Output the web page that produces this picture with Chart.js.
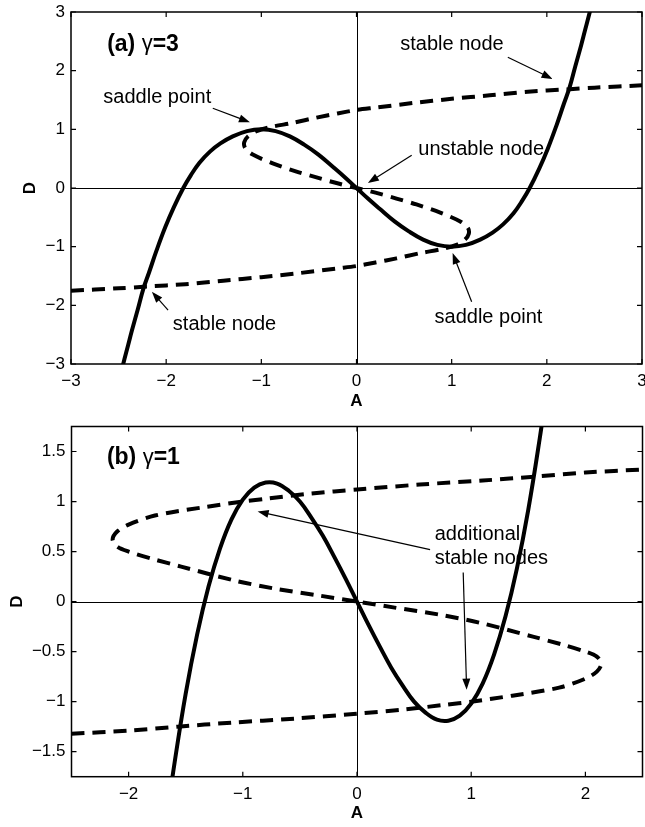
<!DOCTYPE html>
<html>
<head>
<meta charset="utf-8">
<script src="https://cdn.jsdelivr.net/npm/chart.js@4.4.1/dist/chart.umd.min.js"></script>
<style>
  html, body { margin: 0; padding: 0; background: #fff; }
  .panel { position: relative; width: 645px; }
  #wrap-a { height: 413px; }
  #wrap-b { height: 414px; }
</style>
</head>
<body>
<div class="panel" id="wrap-a"><canvas id="chart-a"></canvas></div>
<div class="panel" id="wrap-b"><canvas id="chart-b"></canvas></div>
<script>
// --- Data: panel (a), gamma = 3 ---
const ticksA = [-3, -2, -1, 0, 1, 2, 3];

// A-nullcline (solid), D against A
const solidA_x = [-2.52, -2.45, -2.40, -2.36, -2.30, -2.24, -2.18, -2.10, -2.01, -1.92, -1.82, -1.74, -1.65, -1.54, -1.43, -1.3, -1.15, -1.0, -0.85, -0.7, -0.55, -0.4, -0.24, -0.12,
  0, 0.12, 0.24, 0.4, 0.55, 0.7, 0.85, 1.0, 1.15, 1.3, 1.43, 1.54, 1.65, 1.74, 1.82, 1.92, 2.01, 2.10, 2.18, 2.24, 2.30, 2.36, 2.40, 2.45, 2.52];
const solidA_y = [-3.46, -2.99, -2.68, -2.43, -2.08, -1.72, -1.44, -1.06, -0.67, -0.33, 0, 0.22, 0.43, 0.62, 0.76, 0.88, 0.97, 1.0, 0.97, 0.88, 0.74, 0.57, 0.35, 0.18,
  0, -0.18, -0.35, -0.57, -0.74, -0.88, -0.97, -1.0, -0.97, -0.88, -0.76, -0.62, -0.43, -0.22, 0, 0.33, 0.67, 1.06, 1.44, 1.72, 2.08, 2.43, 2.68, 2.99, 3.46];

// D-nullcline (dashed), walked along the curve
const dashA_x = [-3.0, -2.5, -2.2, -1.8, -1.4, -1.0, -0.6, -0.2, 0.0, 0.2, 0.42, 0.67, 0.9, 1.05, 1.14, 1.18, 1.17, 1.09, 0.88, 0.63, 0.42, 0.2,
  0, -0.2, -0.42, -0.63, -0.88, -1.09, -1.17, -1.18, -1.14, -1.05, -0.9, -0.67, -0.42, -0.2, 0, 0.2, 0.6, 1.0, 1.4, 1.8, 2.2, 2.5, 3.0];
const dashA_y = [-1.75, -1.71, -1.68, -1.64, -1.58, -1.52, -1.45, -1.37, -1.33, -1.27, -1.2, -1.11, -1.04, -0.97, -0.88, -0.78, -0.68, -0.57, -0.42, -0.28, -0.18, -0.08,
  0, 0.08, 0.18, 0.28, 0.42, 0.57, 0.68, 0.78, 0.88, 0.97, 1.04, 1.11, 1.2, 1.27, 1.33, 1.37, 1.45, 1.52, 1.58, 1.64, 1.68, 1.71, 1.75];

// --- Data: panel (b), gamma = 1 ---
const ticksBx = [-2, -1, 0, 1, 2];
const ticksBy = [-1.5, -1, -0.5, 0, 0.5, 1, 1.5];

const solidB_x = [-1.66, -1.6, -1.5, -1.4, -1.3, -1.2, -1.1, -1.0, -0.9, -0.8, -0.7, -0.6, -0.5, -0.4, -0.3, -0.2, -0.1,
  0, 0.1, 0.2, 0.3, 0.4, 0.5, 0.6, 0.7, 0.8, 0.9, 1.0, 1.1, 1.2, 1.3, 1.4, 1.5, 1.6, 1.66];
const solidB_y = [-2.11, -1.63, -0.92, -0.33, 0.15, 0.53, 0.82, 1.02, 1.14, 1.19, 1.18, 1.11, 1.0, 0.84, 0.66, 0.45, 0.23,
  0, -0.23, -0.45, -0.66, -0.84, -1.0, -1.11, -1.18, -1.19, -1.14, -1.02, -0.82, -0.53, -0.15, 0.33, 0.92, 1.63, 2.11];

const dashB_x = [-2.5, -2.0, -1.57, -1.1, -0.55, 0, 0.4, 0.78, 1.0, 1.36, 1.77, 2.0, 2.1, 2.14, 2.1, 2.0, 1.8, 1.54, 1.07, 0.72, 0.33,
  0, -0.33, -0.72, -1.07, -1.54, -1.8, -2.0, -2.1, -2.14, -2.1, -2.0, -1.77, -1.36, -1.0, -0.78, -0.4, 0, 0.55, 1.1, 1.57, 2.0, 2.5];
const dashB_y = [-1.32, -1.29, -1.25, -1.21, -1.17, -1.12, -1.08, -1.03, -1.0, -0.94, -0.86, -0.77, -0.70, -0.62, -0.55, -0.50, -0.43, -0.35, -0.21, -0.13, -0.06,
  0, 0.06, 0.13, 0.21, 0.35, 0.43, 0.50, 0.55, 0.62, 0.70, 0.77, 0.86, 0.94, 1.0, 1.03, 1.08, 1.12, 1.17, 1.21, 1.25, 1.29, 1.32];

// --- Annotations (placed in data units) ---
const notesA = [
  { lines: ['saddle point'], x: -2.66, y: 1.55, from: [-1.51, 1.36], to: [-1.12, 1.12] },
  { lines: ['stable node'], x: 0.46, y: 2.45, from: [1.59, 2.23], to: [2.06, 1.86] },
  { lines: ['unstable node'], x: 0.65, y: 0.65, from: [0.58, 0.56], to: [0.12, 0.085] },
  { lines: ['stable node'], x: -1.93, y: -2.33, from: [-1.98, -2.08], to: [-2.15, -1.77] },
  { lines: ['saddle point'], x: 0.82, y: -2.21, from: [1.21, -1.94], to: [1.01, -1.11] }
];
const notesB = [
  { lines: ['additional', 'stable nodes'], x: 0.68, y: 0.67, from: [0.64, 0.52], to: [-0.87, 0.9] },
  { lines: [], x: 0, y: 0, from: [0.93, 0.29], to: [0.96, -0.88] }
];

const FONT = "'Liberation Sans', Arial, Helvetica, sans-serif";
const fmt = v => String(v).replace('-', '\u2212');
const toPts = (xs, ys) => xs.map((x, i) => ({ x: x, y: ys[i] }));

// draws frame, inward ticks, zero lines, axis names, panel title and notes
function makeDecor(cfg) {
  return {
    id: 'decor',
    beforeDatasetsDraw(chart) {
      const { ctx, chartArea: a } = chart;
      const x0 = Math.round(chart.scales.x.getPixelForValue(0)) + 0.5;
      const y0 = Math.round(chart.scales.y.getPixelForValue(0)) + 0.5;
      ctx.save();
      ctx.strokeStyle = '#000';
      ctx.lineWidth = 1;
      ctx.beginPath();
      ctx.moveTo(a.left, y0); ctx.lineTo(a.right, y0);
      ctx.moveTo(x0, a.top); ctx.lineTo(x0, a.bottom);
      ctx.stroke();
      ctx.restore();
    },
    afterDraw(chart) {
      const { ctx, chartArea: a } = chart;
      const xs = chart.scales.x, ys = chart.scales.y;
      const px = v => xs.getPixelForValue(v), py = v => ys.getPixelForValue(v);
      ctx.save();
      ctx.strokeStyle = '#000';
      ctx.fillStyle = '#000';

      // frame
      ctx.lineWidth = 1.5;
      ctx.strokeRect(a.left, a.top, a.right - a.left, a.bottom - a.top);

      // inward ticks on all four sides
      ctx.lineWidth = 1.2;
      ctx.beginPath();
      xs.ticks.forEach(t => {
        const p = px(t.value);
        ctx.moveTo(p, a.bottom); ctx.lineTo(p, a.bottom - 5);
        ctx.moveTo(p, a.top); ctx.lineTo(p, a.top + 5);
      });
      ys.ticks.forEach(t => {
        const p = py(t.value);
        ctx.moveTo(a.left, p); ctx.lineTo(a.left + 5, p);
        ctx.moveTo(a.right, p); ctx.lineTo(a.right - 5, p);
      });
      ctx.stroke();

      // axis names
      ctx.font = 'bold 17px ' + FONT;
      ctx.textAlign = 'center';
      ctx.textBaseline = 'middle';
      ctx.fillText('A', (a.left + a.right) / 2, a.bottom + 37);
      ctx.font = '17px ' + FONT;
      const wMax = Math.max(...ys.ticks.map(t => ctx.measureText(fmt(t.value)).width));
      ctx.save();
      ctx.translate(a.left - 6 - wMax - 15, (a.top + a.bottom) / 2);
      ctx.rotate(-Math.PI / 2);
      ctx.font = 'bold 17px ' + FONT;
      ctx.fillText('D', 0, 0);
      ctx.restore();

      // panel title: "(a) γ=3"
      ctx.textAlign = 'left';
      let tx = px(cfg.title.x);
      const ty = py(cfg.title.y);
      [['bold 23px ' + FONT, cfg.title.head], ['22px ' + FONT, '\u03b3'], ['bold 23px ' + FONT, cfg.title.tail]].forEach(([f, s]) => {
        ctx.font = f;
        ctx.fillText(s, tx, ty);
        tx += ctx.measureText(s).width;
      });

      // notes with arrows
      ctx.font = '20px ' + FONT;
      cfg.notes.forEach(n => {
        n.lines.forEach((s, i) => ctx.fillText(s, px(n.x), py(n.y) + i * 24));
        const x1 = px(n.from[0]), y1 = py(n.from[1]);
        const x2 = px(n.to[0]), y2 = py(n.to[1]);
        const ang = Math.atan2(y2 - y1, x2 - x1);
        const len = 11, half = 4;
        ctx.lineWidth = 1.2;
        ctx.beginPath();
        ctx.moveTo(x1, y1);
        ctx.lineTo(x2 - Math.cos(ang) * len * 0.8, y2 - Math.sin(ang) * len * 0.8);
        ctx.stroke();
        ctx.beginPath();
        ctx.moveTo(x2, y2);
        ctx.lineTo(x2 - Math.cos(ang) * len - Math.sin(ang) * half, y2 - Math.sin(ang) * len + Math.cos(ang) * half);
        ctx.lineTo(x2 - Math.cos(ang) * len + Math.sin(ang) * half, y2 - Math.sin(ang) * len - Math.cos(ang) * half);
        ctx.closePath();
        ctx.fill();
      });
      ctx.restore();
    }
  };
}

function buildChart(id, p) {
  const tickFont = { family: FONT, size: 17 };
  return new Chart(document.getElementById(id), {
    type: 'scatter',
    data: {
      datasets: [
        {
          data: toPts(p.solidX, p.solidY),
          showLine: true, borderColor: '#000', borderWidth: 4,
          pointRadius: 0, tension: 0.4, clip: 0
        },
        {
          data: toPts(p.dashX, p.dashY),
          showLine: true, borderColor: '#000', borderWidth: 4, borderDash: [13, 8],
          pointRadius: 0, tension: 0.3, clip: 0
        }
      ]
    },
    options: {
      responsive: true,
      maintainAspectRatio: false,
      animation: false,
      events: [],
      layout: { padding: { top: p.top, right: p.right, left: 0, bottom: 0 } },
      plugins: { legend: { display: false }, tooltip: { enabled: false } },
      scales: {
        x: {
          type: 'linear', min: p.xMin, max: p.xMax,
          afterBuildTicks: s => { s.ticks = p.xTicks.map(v => ({ value: v })); },
          afterFit: s => { s.height = p.xH; s.paddingLeft = 0; s.paddingRight = 0; },
          grid: { display: false, drawTicks: false },
          border: { display: false },
          ticks: { color: '#000', font: tickFont, padding: 7, maxRotation: 0, autoSkip: false, callback: fmt }
        },
        y: {
          type: 'linear', min: p.yMin, max: p.yMax,
          afterBuildTicks: s => { s.ticks = p.yTicks.map(v => ({ value: v })); },
          afterFit: s => { s.width = p.yW; s.paddingTop = 0; s.paddingBottom = 0; },
          grid: { display: false, drawTicks: false },
          border: { display: false },
          ticks: { color: '#000', font: tickFont, padding: 6, autoSkip: false, callback: fmt }
        }
      }
    },
    plugins: [makeDecor(p.decor)]
  });
}

buildChart('chart-a', {
  solidX: solidA_x, solidY: solidA_y, dashX: dashA_x, dashY: dashA_y,
  xMin: -3, xMax: 3, yMin: -3, yMax: 3, xTicks: ticksA, yTicks: ticksA,
  top: 12, right: 3, yW: 71, xH: 49,
  decor: { title: { x: -2.62, y: 2.45, head: '(a) ', tail: '=3' }, notes: notesA }
});

buildChart('chart-b', {
  solidX: solidB_x, solidY: solidB_y, dashX: dashB_x, dashY: dashB_y,
  xMin: -2.5, xMax: 2.5, yMin: -1.75, yMax: 1.75, xTicks: ticksBx, yTicks: ticksBy,
  top: 13.5, right: 2.5, yW: 71.5, xH: 50.3,
  decor: { title: { x: -2.19, y: 1.44, head: '(b) ', tail: '=1' }, notes: notesB }
});
</script>
</body>
</html>
